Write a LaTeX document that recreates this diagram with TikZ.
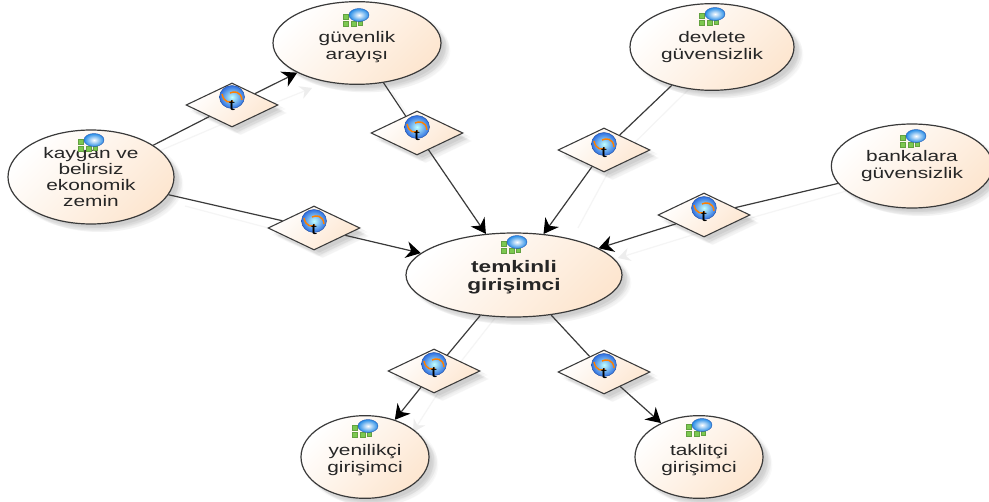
\documentclass[tikz,border=0pt]{standalone}
\usepackage{fontspec}
\setmainfont[FakeStretch=1.36]{Liberation Sans}
\usetikzlibrary{shapes.geometric,arrows.meta}
\definecolor{peach}{HTML}{FDE6D0}
\definecolor{edge}{HTML}{3A3A3A}
\definecolor{icongreen}{HTML}{7CC850}
\definecolor{globeblue}{HTML}{2F6FE0}
\tikzset{
  x=0.75pt,y=-0.75pt,
  softshadow/.style={preaction={draw=none,fill=black,fill opacity=0.022,transform canvas={shift={(#1)}}}},
  allshadow/.style={
    softshadow={6pt,-6pt},softshadow={5pt,-5pt},softshadow={4pt,-4pt},softshadow={7pt,-6pt},
    softshadow={3pt,-5pt},softshadow={6pt,-3pt},softshadow={2pt,-3pt},softshadow={4pt,-2pt}},
  concept/.style={ellipse,draw=edge,line width=0.9pt,left color=white,right color=peach,shading angle=45,
    inner sep=0pt,align=center,font=\fontsize{11.5pt}{13pt}\selectfont,text=black!85,allshadow},
  relation/.style={diamond,draw=edge,line width=0.8pt,left color=white,right color=peach,shading angle=45,
    minimum width=69pt,minimum height=33pt,inner sep=0pt,aspect=2.2,allshadow},
  link/.style={draw=edge,line width=0.9pt},
  arrowlink/.style={link,-{Stealth[length=11pt,width=12.5pt,inset=3.5pt,color=black]}},
  faint/.style={draw=black!4,line width=0.9pt},
  faintarrow/.style={faint,-{Stealth[length=9pt,width=10pt,inset=3pt,color=black!7]}},
  iconsquare/.style={draw=icongreen!80!black,line width=0.4pt,fill=icongreen},
}
\newcommand{\conceptico}[1]{%
  \begin{scope}[shift={(#1)}]
    \draw[iconsquare] (-12,3) rectangle (-7,8);
    \draw[iconsquare] (-12,-4) rectangle (-7,1);
    \draw[iconsquare] (-4,3) rectangle (1,8);
    \draw[iconsquare] (3,3) rectangle (7,7);
    \shade[inner color=white,outer color=globeblue!80!cyan,draw=globeblue!80!black,line width=0.3pt] (4,-3) ellipse [x radius=10,y radius=6.5];
  \end{scope}}
\newcommand{\relico}[2]{%
  \begin{scope}[shift={(#2)}]
    \shade[inner color=cyan!25!white,outer color=globeblue,draw=globeblue!70!black,line width=0.3pt] (0,0) ellipse [x radius=12.5,y radius=11.5];
    \draw[orange,line width=1.1pt] (-10,-3) .. controls (-8,6) and (-2,6) .. (1,4);
    \draw[orange,line width=1.1pt] (10,3) .. controls (9,-6) and (2,-6) .. (-2,-4);
    \node[inner sep=0pt,font=\fontsize{11.5pt}{12pt}\selectfont,text=black] (#1) at (0,9) {t};
  \end{scope}}
\begin{document}
\begin{tikzpicture}
\useasboundingbox (0,0) rectangle (989,502);
\fill[white] (0,0) rectangle (989,502);
% faint connector echoes
\draw[faint] (150,155) -- (232,120);
\draw[faintarrow] (232,120) -- (312,88);
\draw[faint] (185,206) -- (314,240);
\draw[faint] (392,92) -- (430,148);
\draw[faint] (690,88) -- (612,165);
\draw[faint] (612,165) -- (578,228);
\draw[faint] (850,190) -- (715,228);
\draw[faintarrow] (715,228) -- (618,258);
\draw[faint] (495,318) -- (445,382);
\draw[faintarrow] (445,382) -- (413,432);
% relation diamonds
\node[relation] (r1) at (232,105) {};
\node[relation] (r2) at (417,133) {};
\node[relation] (r3) at (604,150) {};
\node[relation] (r4) at (704,215) {};
\node[relation] (r5) at (314,228) {};
\node[relation] (r6) at (434,371) {};
\node[relation] (r7) at (604,372) {};
% concepts
\node[concept,minimum width=124.5pt,minimum height=70.5pt,font=\fontsize{11.5pt}{11.8pt}\selectfont] (kaygan) at (91,177) {kaygan ve\\belirsiz\\ekonomik\\zemin};
\node[concept,minimum width=126pt,minimum height=62pt] (guven) at (357,43) {\rule{0pt}{14pt}güvenlik\\arayışı};
\node[concept,minimum width=123pt,minimum height=65pt] (devlet) at (712,47) {devlete\\güvensizlik};
\node[concept,minimum width=121pt,minimum height=63pt] (banka) at (912,166) {bankalara\\güvensizlik};
\node[concept,minimum width=162pt,minimum height=63pt,font=\fontsize{12.5pt}{13.5pt}\selectfont\bfseries] (temkin) at (514,275) {\rule{0pt}{12pt}temkinli\\girişimci};
\node[concept,minimum width=96pt,minimum height=62pt] (yeni) at (365,457) {\rule{0pt}{13pt}yenilikçi\\girişimci};
\node[concept,minimum width=96pt,minimum height=62pt] (taklit) at (699,457) {\rule{0pt}{13pt}taklitçi\\girişimci};
% connectors
\draw[link] (kaygan) -- (r1);
\draw[arrowlink] (r1) -- (guven);
\draw[link] (kaygan) -- (r5);
\draw[arrowlink] (r5) -- (temkin);
\draw[link] (guven) -- (r2);
\draw[arrowlink] (r2) -- (temkin);
\draw[link] (devlet) -- (r3);
\draw[arrowlink] (r3) -- (temkin);
\draw[link] (banka) -- (r4);
\draw[arrowlink] (r4) -- (temkin);
\draw[link] (temkin) -- (r6);
\draw[arrowlink] (r6) -- (yeni);
\draw[link] (temkin) -- (r7);
\draw[arrowlink] (r7) -- (taklit);
% icons
\conceptico{90,143}
\conceptico{355,18}
\conceptico{711,17}
\conceptico{912,139}
\conceptico{513,245}
\conceptico{364,429}
\conceptico{698,428}
\relico{t1}{232,97}
\relico{t2}{417,127}
\relico{t3}{604,144}
\relico{t4}{704,208}
\relico{t5}{314,221}
\relico{t6}{434,364}
\relico{t7}{604,365}
\end{tikzpicture}
\end{document}
